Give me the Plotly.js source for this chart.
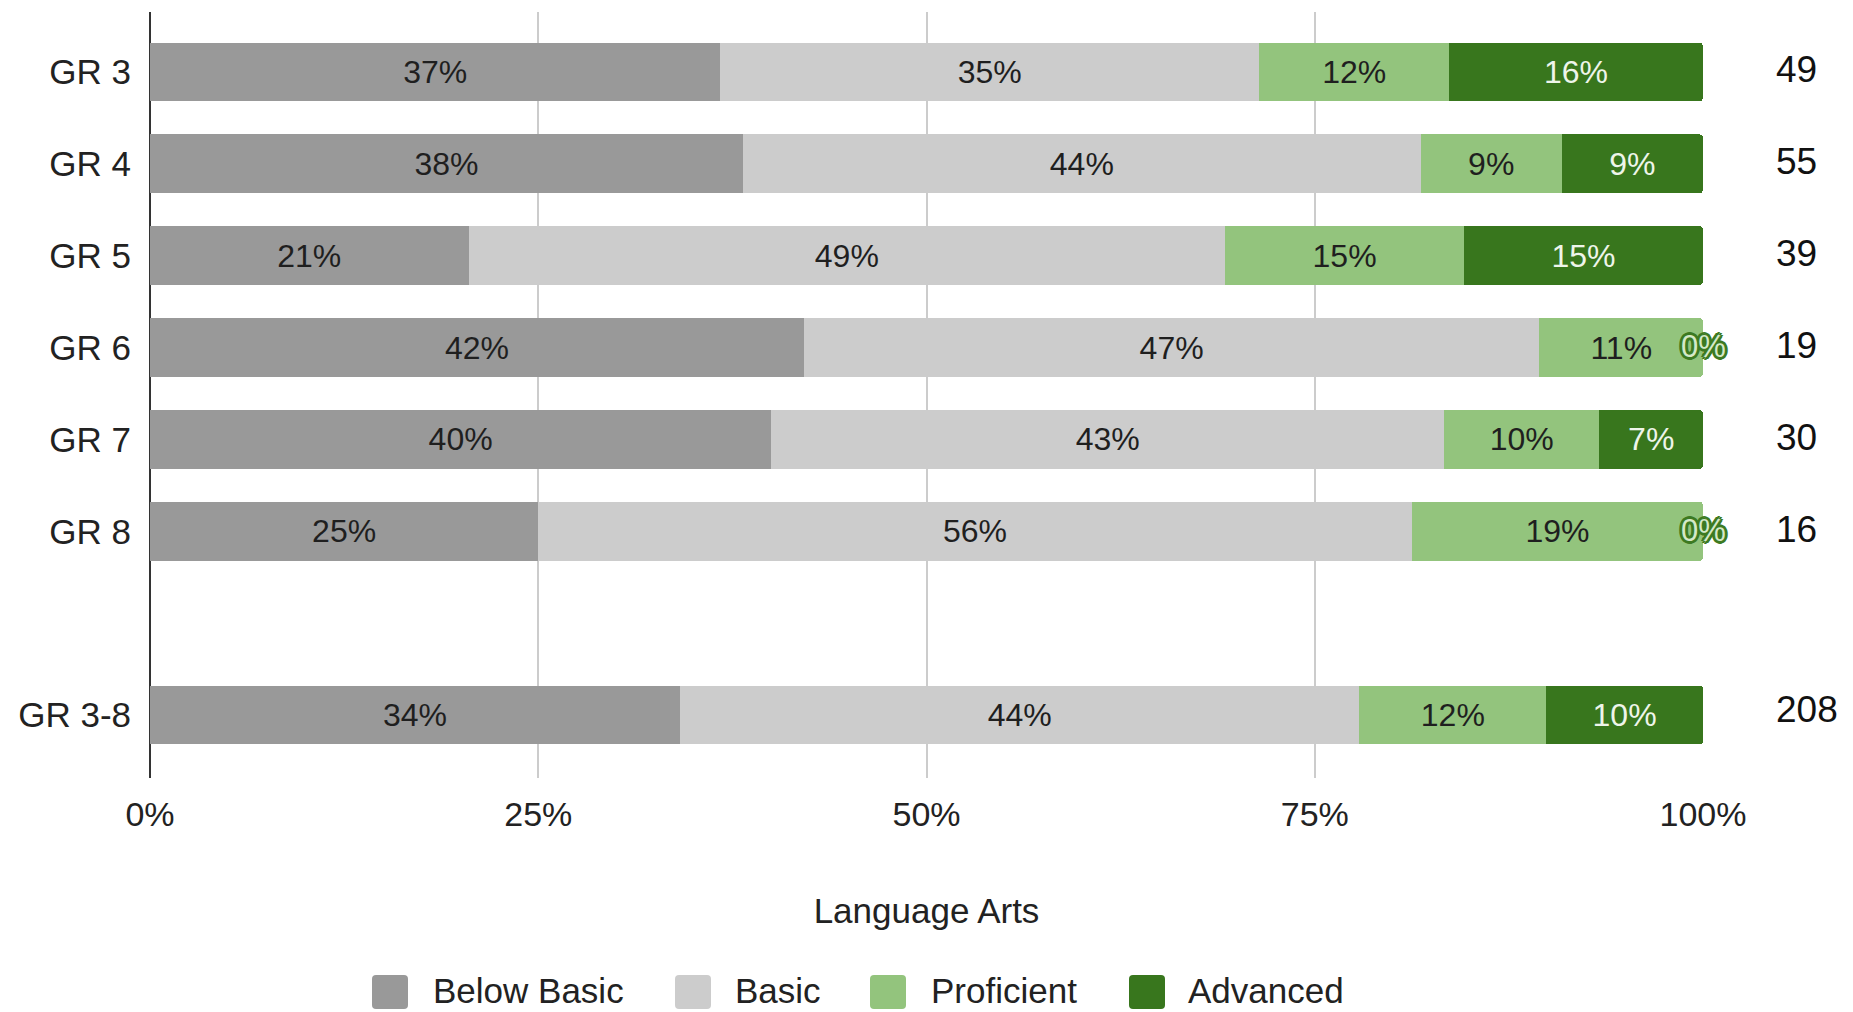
<!DOCTYPE html>
<html>
<head>
<meta charset="utf-8">
<script src="https://cdn.plot.ly/plotly-3.0.1.min.js"></script>
<style>
  html, body { margin: 0; padding: 0; background: #ffffff; }
  #chart { width: 1853px; height: 1012px; }
</style>
</head>
<body>
<div id="chart"></div>
<script>
// ---------------- DATA ----------------
const grades = ['GR 3', 'GR 4', 'GR 5', 'GR 6', 'GR 7', 'GR 8', 'GR 3-8'];
const categoryOrder = ['GR 3', 'GR 4', 'GR 5', 'GR 6', 'GR 7', 'GR 8', ' ', 'GR 3-8'];
const belowBasic = [36.73, 38.18, 20.51, 42.10, 40.00, 25.00, 34.13];
const basic      = [34.69, 43.64, 48.72, 47.37, 43.33, 56.25, 43.75];
const proficient = [12.24,  9.09, 15.38, 10.53, 10.00, 18.75, 12.02];
const advanced   = [16.33,  9.09, 15.38,  0.00,  6.67,  0.00, 10.10];
const counts     = [49, 55, 39, 19, 30, 16, 208];
const seriesNames = ['Below Basic', 'Basic', 'Proficient', 'Advanced'];
const xTickVals = [0, 25, 50, 75, 100];
const xTickText = ['0%', '25%', '50%', '75%', '100%'];
const axisTitle = 'Language Arts';

// ---------------- STYLE ----------------
const FONT = 'Liberation Sans, Arial, Helvetica, sans-serif';
const colors = ['#999999', '#cccccc', '#93c47d', '#38761d'];
const textColors = ['#1f1f1f', '#1f1f1f', '#1f1f1f', '#eef5ea'];
const seriesValues = [belowBasic, basic, proficient, advanced];

// plot-area geometry in pixels (for legend conversion)
const PLOT_L = 150, PLOT_R = 1703, PLOT_T = 12, PLOT_B = 778;
const pxToPaperX = px => (px - PLOT_L) / (PLOT_R - PLOT_L);
const pxToPaperY = py => (PLOT_B - py) / (PLOT_B - PLOT_T);

const traces = seriesValues.map((vals, k) => ({
  type: 'bar',
  orientation: 'h',
  name: seriesNames[k],
  y: grades,
  x: vals,
  width: 0.642,
  marker: { color: colors[k], line: { width: 0 } },
  text: vals.map(v => v > 0 ? Math.round(v) + '%' : ''),
  texttemplate: '%{text}',
  textposition: 'inside',
  insidetextanchor: 'middle',
  textangle: 0,
  insidetextfont: { family: FONT, size: 32, color: textColors[k] },
  showlegend: false,
  hoverinfo: 'skip'
}));

const annotations = [];
// count labels on the right
grades.forEach((g, i) => {
  annotations.push({
    xref: 'paper', yref: 'y',
    x: pxToPaperX(1774), y: g,
    xanchor: 'left', yanchor: 'middle',
    yshift: i === grades.length - 1 ? 5 : 2,
    text: String(counts[i]),
    showarrow: false,
    font: { family: FONT, size: 37, color: '#111111' }
  });
});
// zero-width Advanced labels
const OUTLINE = '#3d7a22';
grades.forEach((g, i) => {
  if (advanced[i] === 0) {
    annotations.push({
      xref: 'x', yref: 'y',
      x: Math.min(100, belowBasic[i] + basic[i] + proficient[i] + advanced[i]),
      y: g,
      xanchor: 'center', yanchor: 'middle',
      yshift: 1,
      text: '0%',
      showarrow: false,
      font: {
        family: FONT, size: 31, color: '#d4e9c8',
        shadow: '3px 0 0 ' + OUTLINE + ', -3px 0 0 ' + OUTLINE + ', 0 3px 0 ' + OUTLINE + ', 0 -3px 0 ' + OUTLINE +
                ', 2px 2px 0 ' + OUTLINE + ', -2px -2px 0 ' + OUTLINE + ', 2px -2px 0 ' + OUTLINE + ', -2px 2px 0 ' + OUTLINE
      }
    });
  }
});

// custom legend
const legendBoxPx = [372, 675, 870, 1129];
const legendTextPx = [431, 733, 929, 1186];
const legendCenterY = 992;
const shapes = [];
seriesNames.forEach((name, k) => {
  shapes.push({
    type: 'path',
    xref: 'paper', yref: 'paper',
    xsizemode: 'pixel', ysizemode: 'pixel',
    xanchor: pxToPaperX(legendBoxPx[k] + 18),
    yanchor: pxToPaperY(legendCenterY),
    path: 'M-14,-17 L14,-17 Q18,-17 18,-13 L18,13 Q18,17 14,17 L-14,17 Q-18,17 -18,13 L-18,-13 Q-18,-17 -14,-17 Z',
    fillcolor: colors[k],
    line: { width: 0 }
  });
  annotations.push({
    xref: 'paper', yref: 'paper',
    x: pxToPaperX(legendTextPx[k]), y: pxToPaperY(legendCenterY - 2),
    xanchor: 'left', yanchor: 'middle',
    text: name, showarrow: false,
    font: { family: FONT, size: 35, color: '#222222' }
  });
});

const layout = {
  width: 1853, height: 1012,
  paper_bgcolor: '#ffffff', plot_bgcolor: '#ffffff',
  margin: { l: PLOT_L, r: 1853 - PLOT_R, t: PLOT_T, b: 1012 - PLOT_B, pad: 0 },
  barmode: 'stack',
  barcornerradius: 4,
  showlegend: false,
  font: { family: FONT, color: '#222222' },
  xaxis: {
    range: [0, 100],
    tickvals: xTickVals,
    ticktext: xTickText,
    showgrid: true,
    gridcolor: '#cccccc',
    gridwidth: 2,
    zeroline: true,
    zerolinecolor: '#333333',
    zerolinewidth: 2,
    showline: false,
    ticks: '',
    ticklabelstandoff: 13,
    tickfont: { family: FONT, size: 34, color: '#222222' },
    title: { text: axisTitle, font: { family: FONT, size: 35, color: '#222222' }, standoff: 66 },
    fixedrange: true
  },
  yaxis: {
    type: 'category',
    categoryorder: 'array',
    categoryarray: categoryOrder,
    range: [7.686, -0.653],
    showgrid: false,
    zeroline: false,
    showline: false,
    ticks: '',
    ticklabelstandoff: 18,
    tickfont: { family: FONT, size: 35, color: '#222222' },
    fixedrange: true
  },
  shapes: shapes,
  annotations: annotations
};

Plotly.newPlot('chart', traces, layout, { staticPlot: true, displayModeBar: false });
</script>
</body>
</html>
